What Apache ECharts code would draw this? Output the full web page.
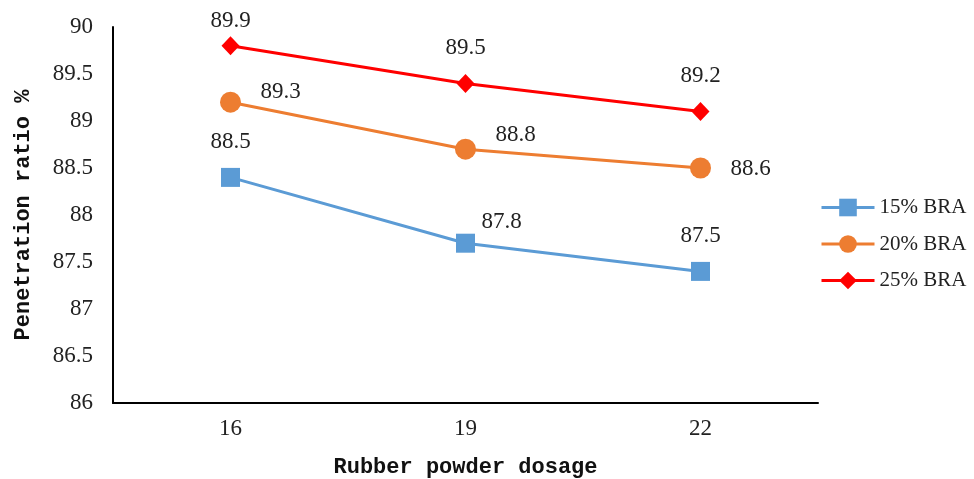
<!DOCTYPE html>
<html>
<head>
<meta charset="utf-8">
<script src="https://cdn.jsdelivr.net/npm/echarts@6/dist/echarts.min.js"></script>
<style>
  html, body { margin: 0; padding: 0; background: #fff; }
  #chart-container { width: 974px; height: 479px; }
</style>
</head>
<body>
<div id="chart-container"></div>
<script>
// 数据
var dosages = ['16', '19', '22'];
var seriesNames = ['15% BRA', '20% BRA', '25% BRA'];
var bra15 = [88.4, 87.7, 87.4];
var bra20 = [89.2, 88.7, 88.5];
var bra25 = [89.8, 89.4, 89.1];
// 图上标注的数值
var bra15Labels = ['88.5', '87.8', '87.5'];
var bra20Labels = ['89.3', '88.8', '88.6'];
var bra25Labels = ['89.9', '89.5', '89.2'];

var container = document.getElementById('chart-container');
var myChart = echarts.init(container);

var numFont = 'Liberation Serif';
var nameFont = 'Liberation Mono';

function buildData(values, labels, offsets) {
    return values.map(function (v, i) {
        return {
            value: v,
            label: {
                show: true,
                position: 'inside',
                offset: offsets[i],
                formatter: labels[i]
            }
        };
    });
}

function makeSeries(name, values, labels, offsets, color, symbol, size) {
    return {
        name: name,
        type: 'line',
        data: buildData(values, labels, offsets),
        symbol: symbol,
        symbolSize: size,
        lineStyle: { color: color, width: 3 },
        itemStyle: { color: color },
        label: {
            color: '#222',
            fontFamily: numFont,
            fontSize: 23
        },
        emphasis: { disabled: true }
    };
}

var option = {
    animation: false,
    grid: {
        left: 113,
        right: 156,
        top: 27,
        bottom: 76,
        outerBoundsMode: 'none',
        containLabel: false
    },
    legend: {
        orient: 'vertical',
        left: 815,
        top: 192,
        itemWidth: 53,
        itemHeight: 22,
        itemGap: 15.5,
        lineStyle: { width: 3 },
        textStyle: {
            fontFamily: numFont,
            fontSize: 21,
            color: '#222'
        },
        data: seriesNames
    },
    xAxis: {
        type: 'category',
        data: dosages,
        boundaryGap: true,
        name: 'Rubber powder dosage',
        nameLocation: 'middle',
        nameGap: 53,
        nameTextStyle: {
            fontFamily: nameFont,
            fontWeight: 'bold',
            fontSize: 22,
            color: '#111'
        },
        axisLine: { lineStyle: { color: '#000', width: 2 } },
        axisTick: { show: false },
        axisLabel: {
            margin: 14,
            fontFamily: numFont,
            fontSize: 23,
            color: '#222'
        },
        splitLine: { show: false }
    },
    yAxis: {
        type: 'value',
        min: 86,
        max: 90,
        interval: 0.5,
        name: 'Penetration ratio %',
        nameLocation: 'middle',
        nameGap: 79,
        nameTextStyle: {
            fontFamily: nameFont,
            fontWeight: 'bold',
            fontSize: 22,
            color: '#111'
        },
        axisLine: { show: true, lineStyle: { color: '#000', width: 2 } },
        axisTick: { show: false },
        axisLabel: {
            margin: 20,
            fontFamily: numFont,
            fontSize: 23,
            color: '#222'
        },
        splitLine: { show: false }
    },
    series: [
        makeSeries(seriesNames[0], bra15, bra15Labels,
            [[0, -35], [36, -21], [0, -35]], '#5B9BD5', 'rect', 19),
        makeSeries(seriesNames[1], bra20, bra20Labels,
            [[50, -10], [50, -14], [50, 1]], '#ED7D31', 'circle', 21),
        makeSeries(seriesNames[2], bra25, bra25Labels,
            [[0, -25], [0, -35], [0, -36]], '#FF0000', 'diamond', [18, 19])
    ]
};

myChart.setOption(option);
</script>
</body>
</html>
